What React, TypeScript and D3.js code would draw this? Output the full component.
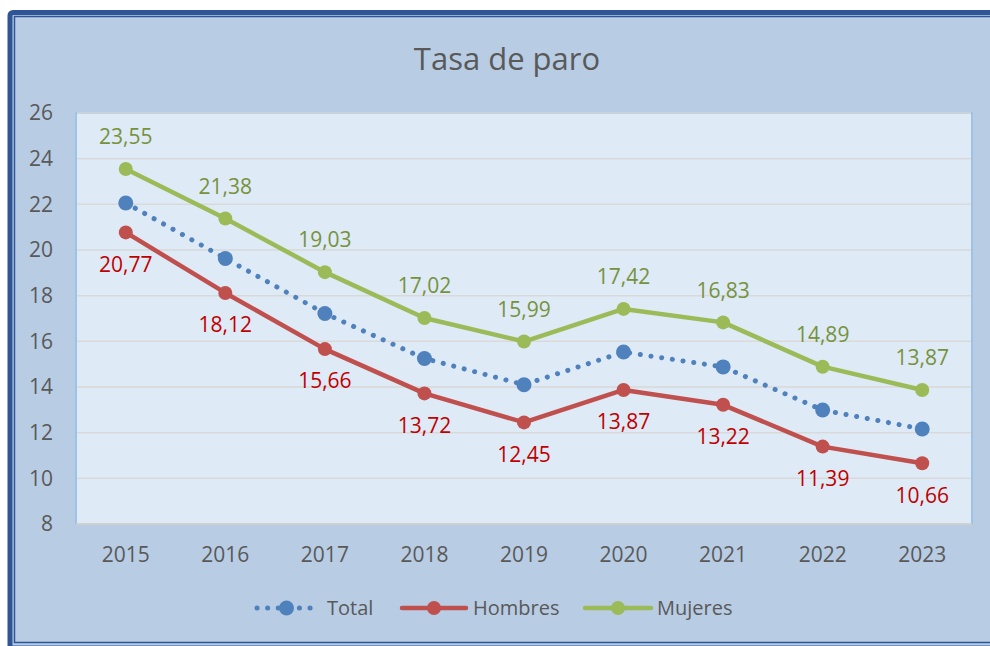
import React from "react";
import * as d3 from "d3";

const years = ["2015", "2016", "2017", "2018", "2019", "2020", "2021", "2022", "2023"];
const total = [22.06, 19.63, 17.22, 15.25, 14.1, 15.53, 14.88, 12.99, 12.16];
const hombres = [20.77, 18.12, 15.66, 13.72, 12.45, 13.87, 13.22, 11.39, 10.66];
const mujeres = [23.55, 21.38, 19.03, 17.02, 15.99, 17.42, 16.83, 14.89, 13.87];
const yTicks = [8, 10, 12, 14, 16, 18, 20, 22, 24, 26];
const title = "Tasa de paro";
const seriesNames = ["Total", "Hombres", "Mujeres"];

const W = 990, H = 646;
const plot = { left: 76, right: 972, top: 113, bottom: 524 };
const font = "'Open Sans', sans-serif";
const textColor = "#595959";
const cBlue = "#4F81BD", cRed = "#C0504D", cGreen = "#9BBB59";
const lRed = "#C00000", lGreen = "#76923C";

const fmt = (v: number) => v.toFixed(2).replace(".", ",");

export default function App() {
  const x = d3.scaleBand().domain(years).range([plot.left, plot.right]);
  const cx = (y: string) => (x(y) as number) + x.bandwidth() / 2;
  const y = d3.scaleLinear().domain([8, 26]).range([plot.bottom, plot.top]);
  const line = d3.line<number>().x((_, i) => cx(years[i])).y((v) => y(v));

  const legendY = 608;
  const legend = [
    { name: seriesNames[0], x0: 257, x1: 316, tx: 327, color: cBlue, dotted: true },
    { name: seriesNames[1], x0: 402, x1: 466, tx: 473, color: cRed, dotted: false },
    { name: seriesNames[2], x0: 585, x1: 651, tx: 657, color: cGreen, dotted: false },
  ];

  return (
    <svg width={W} height={H} style={{ position: "absolute", left: 0, top: 0 }} fontFamily={font}>
      <rect x={0} y={0} width={W} height={H} fill="#ffffff" />
      <rect x={10} y={12.5} width={W + 20} height={H - 12.5 + 2} fill="#B8CCE4" stroke="#2F5597" strokeWidth={5} rx={3} />
      <rect x={14.5} y={16.5} width={W + 20} height={642.5 - 16.5} fill="none" stroke="#2F5597" strokeWidth={1.5} />
      <text x={507} y={70} textAnchor="middle" fontSize={31} fill={textColor}>{title}</text>

      <rect x={plot.left} y={plot.top} width={plot.right - plot.left} height={plot.bottom - plot.top} fill="#DEEAF6" stroke="#9DC3E6" strokeWidth={2} />
      {yTicks.slice(1).map((t) => (
        <line key={t} x1={plot.left + 1} x2={plot.right - 1} y1={y(t)} y2={y(t)} stroke="#D9D9D9" strokeWidth={1.5} />
      ))}
      <line x1={plot.left} x2={plot.right} y1={plot.bottom} y2={plot.bottom} stroke="#D0D0D0" strokeWidth={2} />
      {yTicks.map((t) => (
        <text key={t} x={53} y={y(t)} dy="0.35em" textAnchor="end" fontSize={21} fill={textColor}>{t}</text>
      ))}
      {years.map((yr) => (
        <text key={yr} x={cx(yr)} y={555} dy="0.35em" textAnchor="middle" fontSize={21} fill={textColor}>{yr}</text>
      ))}

      <path d={line(mujeres) || ""} fill="none" stroke={cGreen} strokeWidth={4.5} strokeLinejoin="round" />
      <path d={line(hombres) || ""} fill="none" stroke={cRed} strokeWidth={4.5} strokeLinejoin="round" />
      <path d={line(total) || ""} fill="none" stroke={cBlue} strokeWidth={5} strokeLinecap="round" strokeDasharray="0.1 10.7" />

      {mujeres.map((v, i) => <circle key={"m" + i} cx={cx(years[i])} cy={y(v)} r={7} fill={cGreen} />)}
      {hombres.map((v, i) => <circle key={"h" + i} cx={cx(years[i])} cy={y(v)} r={7} fill={cRed} />)}
      {total.map((v, i) => <circle key={"t" + i} cx={cx(years[i])} cy={y(v)} r={7.5} fill={cBlue} />)}

      {mujeres.map((v, i) => (
        <text key={"ml" + i} x={cx(years[i])} y={y(v) - 32} dy="0.35em" textAnchor="middle" fontSize={21} fill={lGreen}>{fmt(v)}</text>
      ))}
      {hombres.map((v, i) => (
        <text key={"hl" + i} x={cx(years[i])} y={y(v) + 32} dy="0.35em" textAnchor="middle" fontSize={21} fill={lRed}>{fmt(v)}</text>
      ))}

      {legend.map((l) => (
        <g key={l.name}>
          {l.dotted ? (
            <line x1={l.x0} x2={l.x1} y1={legendY} y2={legendY} stroke={l.color} strokeWidth={5} strokeLinecap="round" strokeDasharray="0.1 10.5" />
          ) : (
            <line x1={l.x0} x2={l.x1} y1={legendY} y2={legendY} stroke={l.color} strokeWidth={4.5} strokeLinecap="round" />
          )}
          <circle cx={(l.x0 + l.x1) / 2} cy={legendY} r={l.dotted ? 7.5 : 7} fill={l.color} />
          <text x={l.tx} y={legendY} dy="0.35em" fontSize={20} fill={textColor}>{l.name}</text>
        </g>
      ))}
    </svg>
  );
}
